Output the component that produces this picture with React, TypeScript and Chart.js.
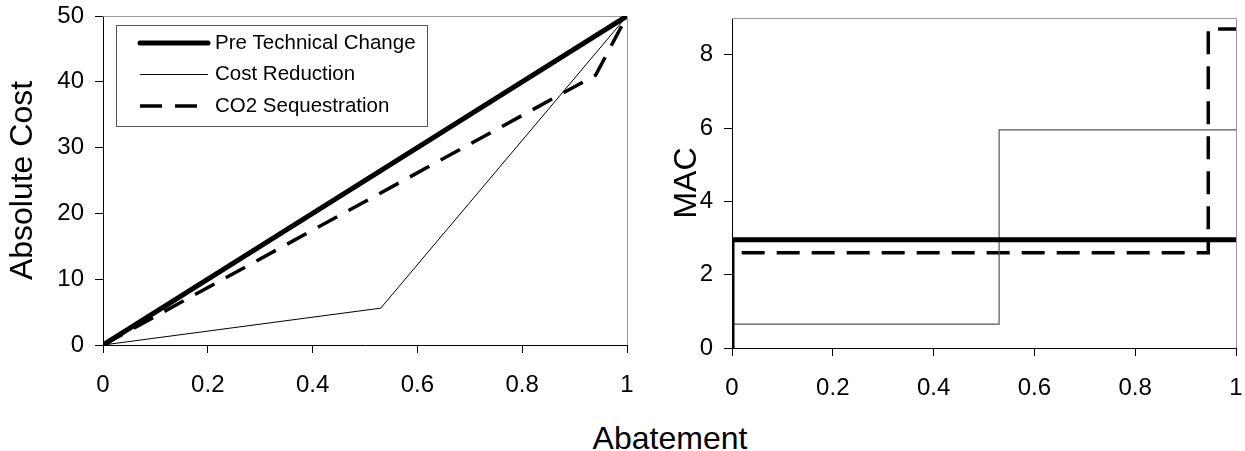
import React, { useEffect, useRef } from "react";
import { Chart, registerables } from "chart.js";

Chart.register(...registerables);

const FONT = "'Liberation Sans', Arial, Helvetica, sans-serif";

// ---- Data: left panel (absolute cost) ----
const preAbatement = [0, 1];
const preCost = [0, 50];
const reductionAbatement = [0, 0.53, 1];
const reductionCost = [0, 5.6, 50];
const seqAbatement = [0, 0.94, 1];
const seqCost = [0, 41, 50];

// ---- Data: right panel (marginal abatement cost, step curves) ----
const preMacAbatement = [0, 0, 1];
const preMac = [0, 2.95, 2.95];
const reductionMacAbatement = [0, 0, 0.53, 1];
const reductionMac = [0, 0.65, 5.95, 5.95];
const seqMacAbatement = [0, 0, 0.945, 1];
const seqMac = [0, 2.6, 8.7, 8.7];

// ---- Labels / ticks ----
const seriesNames = ["Pre Technical Change", "Cost Reduction", "CO2 Sequestration"];
const abatementTicks = [0, 0.2, 0.4, 0.6, 0.8, 1];
const costTicks = [0, 10, 20, 30, 40, 50];
const macTicks = [0, 2, 4, 6, 8];

const toPoints = (xs: number[], ys: number[]) => xs.map((x, i) => ({ x, y: ys[i] }));

const framePlugin = {
  id: "frame",
  beforeDatasetsDraw(chart: any) {
    const { ctx, chartArea } = chart;
    const { left, right, top, bottom } = chartArea;
    ctx.save();
    ctx.strokeStyle = "#9a9a9a";
    ctx.lineWidth = 1;
    ctx.beginPath();
    ctx.moveTo(left, Math.round(top) + 0.5);
    ctx.lineTo(Math.round(right) + 0.5, Math.round(top) + 0.5);
    ctx.lineTo(Math.round(right) + 0.5, bottom);
    ctx.stroke();
    ctx.restore();
  },
};

const boxLegendPlugin = {
  id: "boxLegend",
  afterDatasetsDraw(chart: any, _args: any, opts: any) {
    if (!opts || !opts.display) return;
    const { ctx, chartArea } = chart;
    const bx = chartArea.left + opts.offsetX;
    const by = chartArea.top + opts.offsetY;
    ctx.save();
    ctx.fillStyle = "#fff";
    ctx.fillRect(bx, by, opts.width, opts.height);
    ctx.strokeStyle = "#555";
    ctx.lineWidth = 1;
    ctx.strokeRect(Math.round(bx) + 0.5, Math.round(by) + 0.5, opts.width, opts.height);
    chart.data.datasets.forEach((ds: any, i: number) => {
      const y = by + opts.rowStart + i * opts.rowGap;
      const sx = bx + opts.sampleX;
      ctx.save();
      ctx.strokeStyle = ds.borderColor;
      ctx.lineWidth = ds.borderWidth;
      ctx.lineCap = ds.borderCapStyle || "butt";
      ctx.setLineDash(ds.borderDash || []);
      ctx.beginPath();
      ctx.moveTo(sx, y);
      ctx.lineTo(sx + opts.sampleW, y);
      ctx.stroke();
      ctx.restore();
      ctx.fillStyle = "#000";
      ctx.font = `${opts.fontSize}px ${FONT}`;
      ctx.textBaseline = "middle";
      ctx.textAlign = "left";
      ctx.fillText(ds.label, bx + opts.textX, y);
    });
    ctx.restore();
  },
};

function axisCommon(ticks: number[], padding: number, fit: (s: any) => void) {
  return {
    type: "linear" as const,
    min: ticks[0],
    afterFit: (s: any) => {
      fit(s);
      s.paddingLeft = 0;
      s.paddingRight = 0;
      s.paddingTop = 0;
      s.paddingBottom = 0;
    },
    afterBuildTicks: (s: any) => {
      s.ticks = ticks.map((v) => ({ value: v }));
    },
    ticks: {
      font: { family: FONT, size: 24 },
      color: "#000",
      padding,
      maxRotation: 0,
      autoSkip: false,
      callback: (v: any) => String(v),
    },
    grid: {
      drawOnChartArea: false,
      drawTicks: true,
      tickLength: 8,
      color: "#000",
      lineWidth: 1,
    },
    border: { display: true, color: "#000", width: 1 },
  };
}

function CostChart() {
  const ref = useRef<HTMLCanvasElement>(null);
  useEffect(() => {
    if (!ref.current) return;
    const chart = new Chart(ref.current, {
      type: "line",
      data: {
        datasets: [
          {
            label: seriesNames[0],
            data: toPoints(preAbatement, preCost),
            borderColor: "#000",
            borderWidth: 5,
            borderCapStyle: "round",
            pointRadius: 0,
          },
          {
            label: seriesNames[1],
            data: toPoints(reductionAbatement, reductionCost),
            borderColor: "#000",
            borderWidth: 1,
            pointRadius: 0,
          },
          {
            label: seriesNames[2],
            data: toPoints(seqAbatement, seqCost),
            borderColor: "#000",
            borderWidth: 3.5,
            borderDash: [22, 13],
            pointRadius: 0,
          },
        ],
      } as any,
      options: {
        responsive: false,
        animation: false,
        devicePixelRatio: 1,
        layout: { padding: { left: 0, top: 16, right: 23, bottom: 0 } },
        plugins: {
          legend: { display: false },
          tooltip: { enabled: false },
          boxLegend: {
            display: true,
            offsetX: 13,
            offsetY: 9,
            width: 311,
            height: 101,
            rowStart: 18,
            rowGap: 31.5,
            sampleX: 24,
            sampleW: 68,
            textX: 99,
            fontSize: 20.5,
          },
        } as any,
        scales: {
          x: {
            ...axisCommon(abatementTicks, 18, (s: any) => {
              s.height = 55;
            }),
            max: 1,
          },
          y: {
            ...axisCommon(costTicks, 11, (s: any) => {
              s.width = 103;
            }),
            max: 50,
            title: {
              display: true,
              text: "Absolute Cost",
              color: "#000",
              font: { family: FONT, size: 32 },
              padding: { top: 4, bottom: 0 },
            },
          },
        } as any,
      },
      plugins: [framePlugin, boxLegendPlugin],
    });
    return () => chart.destroy();
  }, []);
  return (
    <canvas
      ref={ref}
      width={650}
      height={400}
      style={{ position: "absolute", left: 0, top: 0, width: 650, height: 400 }}
    />
  );
}

function MacChart() {
  const ref = useRef<HTMLCanvasElement>(null);
  useEffect(() => {
    if (!ref.current) return;
    const chart = new Chart(ref.current, {
      type: "line",
      data: {
        datasets: [
          {
            label: seriesNames[0],
            data: toPoints(preMacAbatement, preMac),
            borderColor: "#000",
            borderWidth: 5,
            stepped: "before",
            pointRadius: 0,
          },
          {
            label: seriesNames[1],
            data: toPoints(reductionMacAbatement, reductionMac),
            borderColor: "#555",
            borderWidth: 1.2,
            stepped: "before",
            pointRadius: 0,
          },
          {
            label: seriesNames[2],
            data: toPoints(seqMacAbatement, seqMac),
            borderColor: "#000",
            borderWidth: 3.5,
            borderDash: [23, 12],
            stepped: "before",
            pointRadius: 0,
          },
        ],
      } as any,
      options: {
        responsive: false,
        animation: false,
        devicePixelRatio: 1,
        layout: { padding: { left: 0, top: 18, right: 9, bottom: 0 } },
        plugins: {
          legend: { display: false },
          tooltip: { enabled: false },
        },
        scales: {
          x: {
            ...axisCommon(abatementTicks, 18, (s: any) => {
              s.height = 52;
            }),
            max: 1,
          },
          y: {
            ...axisCommon(macTicks, 11, (s: any) => {
              s.width = 92;
            }),
            max: 9,
            title: {
              display: true,
              text: "MAC",
              color: "#000",
              font: { family: FONT, size: 32 },
              padding: { top: 28, bottom: 0 },
            },
          },
        } as any,
      },
      plugins: [framePlugin],
    });
    return () => chart.destroy();
  }, []);
  return (
    <canvas
      ref={ref}
      width={605}
      height={400}
      style={{ position: "absolute", left: 640, top: 0, width: 605, height: 400 }}
    />
  );
}

export default function App() {
  return (
    <div
      style={{
        position: "absolute",
        left: 0,
        top: 0,
        width: 1245,
        height: 451,
        overflow: "hidden",
        background: "#fff",
      }}
    >
      <CostChart />
      <MacChart />
      <div
        style={{
          position: "absolute",
          left: 670,
          top: 422,
          transform: "translateX(-50%)",
          fontFamily: FONT,
          fontSize: 32,
          lineHeight: 1,
          whiteSpace: "nowrap",
          color: "#000",
        }}
      >
        Abatement
      </div>
    </div>
  );
}
